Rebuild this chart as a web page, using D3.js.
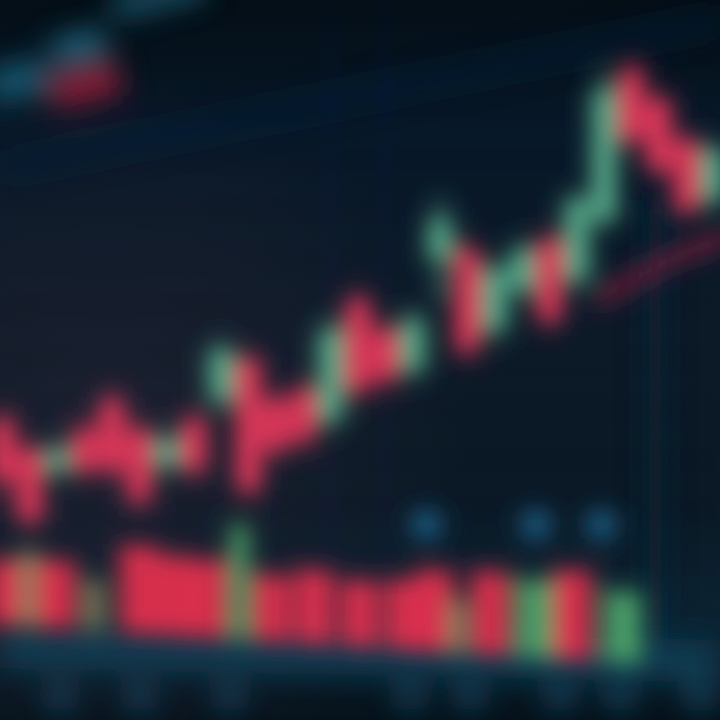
<!DOCTYPE html>
<html><head><meta charset="utf-8">
<script src="https://cdn.jsdelivr.net/npm/d3@7"></script>
<style>html,body{margin:0;padding:0;background:#0a1722;overflow:hidden}</style>
</head><body>
<svg id="c" width="720" height="720"></svg>
<script>
// ---- data ----
const candleIndex = d3.range(27);
const opens  = [28,22,18,26,32,26,19,28,32,40,32,34,28,52,46,38,60,62,46,54,64,56,68,98,92,84,72];
const closes = [16, 8,22,18,18,12,24,18,42,14,22,24,46,34,36,48,68,42,58,62,48,72,94,84,78,70,82];
const highs  = [30,24,24,28,34,28,26,30,44,42,34,36,48,54,48,50,72,64,60,64,66,74,98,100,94,86,84];
const lows   = [12, 6,16,16,16,10,17,16,30,12,20,22,26,32,34,36,52,40,44,52,46,54,66,82,76,68,70];
const volumeTime = [0.16,0.96,1.96,3.35,5.0,6.3,7.5,8.67,9.84,11.4,13.07,14.72,15.82,16.63,17.84,19.49,20.85,22.68];
const volumes    = [16.4,19,17,12.7,22,20,19.5,28.7,16.7,18.6,16.7,17.5,20.5,13.2,21,19.5,22.5,18];
const volumeDir  = ["down","flat","down","flat","down","down","down","up","down","down","down","down","down","flat","down","up","down","up"];
const maIndex  = [21.7,22.7,23.7,24.7,25.7,26.6];
const maValues = [52,55,58,61,63,65];
const markerIndex = [15.5,19.5,21.9];
const markerValue = [7,7,7];

const W = 720, H = 720;
const svg = d3.select("#c");
const defs = svg.append("defs");

const bg = defs.append("linearGradient").attr("id","bg").attr("x1",0).attr("y1",0).attr("x2",0).attr("y2",1);
[[0,"#050f17"],[0.18,"#08192a"],[0.45,"#0d1b29"],[0.7,"#0b1a27"],[0.86,"#0d2434"],[0.92,"#0a1c29"],[1,"#06121b"]]
  .forEach(([o,c])=>bg.append("stop").attr("offset",o).attr("stop-color",c));
const rg = defs.append("radialGradient").attr("id","glow").attr("cx",0.15).attr("cy",0.6).attr("r",0.5);
rg.append("stop").attr("offset",0).attr("stop-color","#1e2232").attr("stop-opacity",0.9);
rg.append("stop").attr("offset",1).attr("stop-color","#1e2232").attr("stop-opacity",0);

const blur = defs.append("filter").attr("id","blur").attr("filterUnits","userSpaceOnUse")
  .attr("x",-50).attr("y",-50).attr("width",W+100).attr("height",H+100);
blur.append("feGaussianBlur").attr("stdDeviation",11);
const blur2 = defs.append("filter").attr("id","blur2").attr("filterUnits","userSpaceOnUse")
  .attr("x",-80).attr("y",-80).attr("width",W+160).attr("height",H+160);
blur2.append("feGaussianBlur").attr("stdDeviation",14);

svg.append("rect").attr("width",W).attr("height",H).attr("fill","url(#bg)");
svg.append("rect").attr("width",W).attr("height",H).attr("fill","url(#glow)");

// scales
const x = d3.scaleBand().domain(candleIndex).range([-12, 728]).padding(0.06);
const xc = d3.scaleLinear().domain([0, 26]).range([x(0)+x.bandwidth()/2, x(26)+x.bandwidth()/2]);
const y = d3.scaleLinear().domain([0,100]).range([560,60]);
const yv = d3.scaleLinear().domain([0,30]).range([625,505]);
const volWidth = x.step()*1.4;
const volSkew = 3.5; // perspective tilt of the volume pane (degrees)

// background decorations (blurred strongly)
const deco = svg.append("g").attr("filter","url(#blur2)");
deco.append("rect").attr("x",645).attr("y",200).attr("width",20).attr("height",450).attr("fill","#0f2a3a").attr("opacity",0.7);
deco.append("path").attr("d","M0,628 L720,640 L720,682 L0,668 Z").attr("fill","#164560").attr("opacity",0.75);
// blurred top-left tilted panel
const tl = deco.append("g").attr("transform","rotate(-14,100,60)");
tl.append("rect").attr("x",-15).attr("y",42).attr("width",60).attr("height",36).attr("fill","#17566e");
tl.append("rect").attr("x",55).attr("y",28).attr("width",55).attr("height",30).attr("fill","#1b6078");
tl.append("rect").attr("x",45).attr("y",64).attr("width",70).attr("height",34).attr("fill","#8a1c38");
tl.append("rect").attr("x",125).attr("y",2).attr("width",95).attr("height",22).attr("fill","#1a5a72");
deco.append("line").attr("x1",0).attr("y1",170).attr("x2",720).attr("y2",20).attr("stroke","#0f2a40").attr("stroke-width",18).attr("opacity",0.6);
// blurred bottom axis labels
const axisLabelX = [60,140,230,410,470,560,620,700];
deco.selectAll("circle.lab").data(axisLabelX).join("circle").attr("class","lab")
  .attr("cx",d=>d).attr("cy",697).attr("r",14).attr("fill","#1a5a7a").attr("opacity",0.7);

// chart group
const g = svg.append("g").attr("filter","url(#blur)");
// grid
g.selectAll("line.vg").data(candleIndex).join("line").attr("class","vg")
  .attr("x1",d=>xc(d)).attr("x2",d=>xc(d)).attr("y1",0).attr("y2",650)
  .attr("stroke","#14324a").attr("stroke-width",1.5).attr("opacity",0.5);
g.selectAll("line.hg").data(y.ticks(8)).join("line").attr("class","hg")
  .attr("x1",0).attr("x2",W).attr("y1",d=>y(d)).attr("y2",d=>y(d))
  .attr("stroke","#14324a").attr("stroke-width",1.5).attr("opacity",0.4);

const up = "#56a888", down = "#e0385a";
const candles = candleIndex.map(i=>({i,o:opens[i],c:closes[i],h:highs[i],l:lows[i]}));
// MA line
g.append("path").datum(maIndex.map((v,k)=>[v,maValues[k]]))
  .attr("d",d3.line().curve(d3.curveBasis).x(d=>xc(d[0])).y(d=>y(d[1])))
  .attr("fill","none").attr("stroke","#8a1c3c").attr("stroke-width",14).attr("opacity",0.85);
// wicks
g.selectAll("line.wick").data(candles).join("line").attr("class","wick")
  .attr("x1",d=>xc(d.i)).attr("x2",d=>xc(d.i)).attr("y1",d=>y(d.h)).attr("y2",d=>y(d.l))
  .attr("stroke",d=>d.c>=d.o?up:down).attr("stroke-width",6);
// bodies
g.selectAll("rect.body").data(candles).join("rect").attr("class","body")
  .attr("x",d=>x(d.i)).attr("width",x.bandwidth())
  .attr("y",d=>y(Math.max(d.o,d.c))).attr("height",d=>Math.max(3,Math.abs(y(d.o)-y(d.c))))
  .attr("fill",d=>d.c>=d.o?up:down);
// markers
g.selectAll("circle.mk").data(markerIndex.map((v,k)=>[v,markerValue[k]])).join("circle").attr("class","mk")
  .attr("cx",d=>xc(d[0])).attr("cy",d=>y(d[1])).attr("r",15).attr("fill","#1a5c82");
// volumes
const volColor = {up:"#4ea56a", down:"#e5304f", flat:"#8a8460"};
const narrow = d => d.d==="flat" || (d.d==="up" && d.v>25);
const vg = g.append("g").attr("transform",`skewY(${volSkew})`);
vg.selectAll("rect.vol").data(volumeTime.map((t,k)=>({t,v:volumes[k],d:volumeDir[k]}))).join("rect").attr("class","vol")
  .attr("x",d=>xc(d.t)-(narrow(d)?volWidth*0.25:volWidth/2))
  .attr("width",d=>narrow(d)?volWidth*0.5:volWidth)
  .attr("y",d=>yv(d.v)).attr("height",d=>yv(0)-yv(d.v))
  .attr("fill",d=>volColor[d.d]).attr("opacity",0.92);
</script>
</body></html>
